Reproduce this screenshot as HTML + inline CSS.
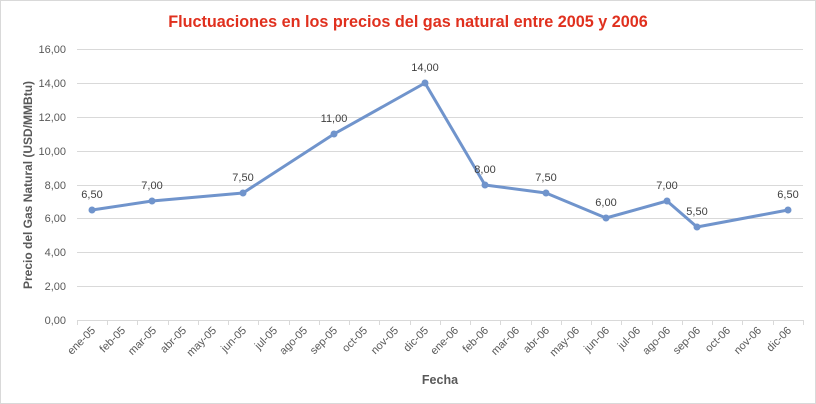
<!DOCTYPE html><html><head><style>body{margin:0;background:#fff}svg{display:block;font-family:"Liberation Sans",sans-serif}</style></head><body>
<svg width="816" height="404" viewBox="0 0 816 404">
<rect x="0.5" y="0.5" width="815" height="403" fill="#fff" stroke="#d9d9d9"/>
<text x="408" y="27" text-anchor="middle" font-size="16.2" font-weight="bold" fill="#e0301e">Fluctuaciones en los precios del gas natural entre 2005 y 2006</text>
<g stroke="#d9d9d9" stroke-width="1">
<line x1="77" x2="803" y1="49.5" y2="49.5"/><line x1="77" x2="803" y1="83.5" y2="83.5"/><line x1="77" x2="803" y1="117.5" y2="117.5"/><line x1="77" x2="803" y1="151.5" y2="151.5"/><line x1="77" x2="803" y1="185.5" y2="185.5"/><line x1="77" x2="803" y1="218.5" y2="218.5"/><line x1="77" x2="803" y1="252.5" y2="252.5"/><line x1="77" x2="803" y1="286.5" y2="286.5"/><line x1="77" x2="803" y1="320.5" y2="320.5"/>
<path d="M77.5 320v5M107.5 320v5M137.5 320v5M168.5 320v5M198.5 320v5M228.5 320v5M258.5 320v5M289.5 320v5M319.5 320v5M349.5 320v5M379.5 320v5M410.5 320v5M440.5 320v5M470.5 320v5M500.5 320v5M531.5 320v5M561.5 320v5M591.5 320v5M621.5 320v5M652.5 320v5M682.5 320v5M712.5 320v5M742.5 320v5M773.5 320v5M803.5 320v5"/>
</g>
<g font-size="11" fill="#595959" text-anchor="end">
<text x="66" y="53">16,00</text><text x="66" y="87">14,00</text><text x="66" y="121">12,00</text><text x="66" y="155">10,00</text><text x="66" y="189">8,00</text><text x="66" y="222">6,00</text><text x="66" y="256">4,00</text><text x="66" y="290">2,00</text><text x="66" y="324">0,00</text>
</g>
<g font-size="11" fill="#595959" text-anchor="end">
<text transform="translate(96,331) rotate(-45)">ene-05</text>
<text transform="translate(126,331) rotate(-45)">feb-05</text>
<text transform="translate(157,331) rotate(-45)">mar-05</text>
<text transform="translate(187,331) rotate(-45)">abr-05</text>
<text transform="translate(217,331) rotate(-45)">may-05</text>
<text transform="translate(247,331) rotate(-45)">jun-05</text>
<text transform="translate(278,331) rotate(-45)">jul-05</text>
<text transform="translate(308,331) rotate(-45)">ago-05</text>
<text transform="translate(338,331) rotate(-45)">sep-05</text>
<text transform="translate(368,331) rotate(-45)">oct-05</text>
<text transform="translate(399,331) rotate(-45)">nov-05</text>
<text transform="translate(429,331) rotate(-45)">dic-05</text>
<text transform="translate(459,331) rotate(-45)">ene-06</text>
<text transform="translate(489,331) rotate(-45)">feb-06</text>
<text transform="translate(520,331) rotate(-45)">mar-06</text>
<text transform="translate(550,331) rotate(-45)">abr-06</text>
<text transform="translate(580,331) rotate(-45)">may-06</text>
<text transform="translate(610,331) rotate(-45)">jun-06</text>
<text transform="translate(641,331) rotate(-45)">jul-06</text>
<text transform="translate(671,331) rotate(-45)">ago-06</text>
<text transform="translate(701,331) rotate(-45)">sep-06</text>
<text transform="translate(731,331) rotate(-45)">oct-06</text>
<text transform="translate(762,331) rotate(-45)">nov-06</text>
<text transform="translate(792,331) rotate(-45)">dic-06</text>
</g>
<text transform="translate(32,185) rotate(-90)" text-anchor="middle" font-size="12" font-weight="bold" fill="#595959">Precio del Gas Natural (USD/MMBtu)</text>
<text x="440" y="384" text-anchor="middle" font-size="12.5" font-weight="bold" fill="#595959">Fecha</text>
<polyline fill="none" stroke="#7094cc" stroke-width="3" stroke-linejoin="round" points="92,210 152,201 243,193 334,134 425,83 485,185 546,193 606,218 667,201 697,227 788,210"/>
<g fill="#7094cc"><circle cx="92" cy="210" r="3.5"/><circle cx="152" cy="201" r="3.5"/><circle cx="243" cy="193" r="3.5"/><circle cx="334" cy="134" r="3.5"/><circle cx="425" cy="83" r="3.5"/><circle cx="485" cy="185" r="3.5"/><circle cx="546" cy="193" r="3.5"/><circle cx="606" cy="218" r="3.5"/><circle cx="667" cy="201" r="3.5"/><circle cx="697" cy="227" r="3.5"/><circle cx="788" cy="210" r="3.5"/></g>
<g font-size="11" fill="#404040" text-anchor="middle">
<text x="92" y="198">6,50</text><text x="152" y="189">7,00</text><text x="243" y="181">7,50</text><text x="334" y="122">11,00</text><text x="425" y="71">14,00</text><text x="485" y="173">8,00</text><text x="546" y="181">7,50</text><text x="606" y="206">6,00</text><text x="667" y="189">7,00</text><text x="697" y="215">5,50</text><text x="788" y="198">6,50</text>
</g>
</svg></body></html>
